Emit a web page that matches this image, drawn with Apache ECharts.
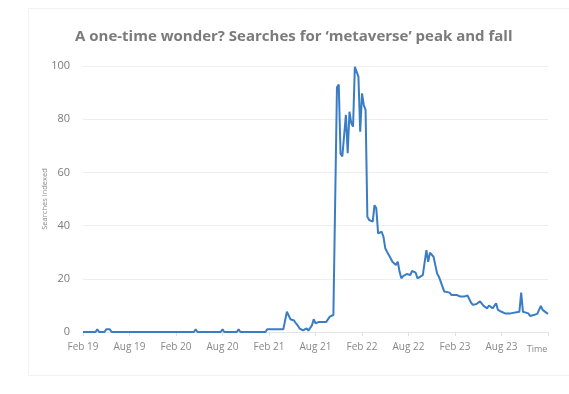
<!DOCTYPE html>
<html>
<head>
<meta charset="utf-8">
<script src="https://cdn.jsdelivr.net/npm/echarts@6/dist/echarts.min.js"></script>
<style>
html,body{margin:0;padding:0;background:#fff;}
#chart{width:569px;height:394px;}
</style>
</head>
<body>
<div id="chart"></div>
<script>
// Weeks since first week of Feb 2019 (weekly Google Trends-style index)
const weeks = [0,7,8,9,12,13,14,15,16,62,63,64,77,78,79,86,87,88,102,103,104,105,112,113,114,115,116,117,118,119,120,121,122,123,124,125,126,127,128,129,130,131,132,136,137,138,139,140,142,143,144,145,147,148,149,150,151,152,153,154,155,156,157,158,159,160,162,163,164,165,167,168,169,170,172,173,175,176,177,178,179,181,183,184,186,187,190,191,192,193,194,195,196,198,199,200,202,203,205,206,207,209,211,212,213,215,216,217,218,220,221,222,224,225,226,227,229,231,232,233,234,236,237,239,240,244,245,246,247,249,250,252,253,254,256,257,259,260];
const searches = [0,0,1,0,0,1,0.5,1,0,0,1,0,0,1,0,0,1,0,0,1,0.5,1,1,1.5,7.6,8,4.8,4.5,4.3,3.3,2.5,1.4,0.8,0.6,0.5,1.4,0.5,0.8,2.5,4.8,3.3,3.6,3.8,3.8,4.5,5.8,6.2,6.4,92,93,67,66,81.6,67.2,82.8,78.5,77.2,99.7,100,96,75.3,89.7,85.3,83.5,43.3,42.1,41.5,47.7,46.5,37.1,37.7,35.8,31.5,30.2,27.7,26.4,25.2,26.4,22.7,20.2,21,21.8,21.4,23,22.3,20.2,21.4,22,30.8,26.4,29.8,29.3,28.3,22,20.8,20.5,15.2,14.5,14.8,13.9,13.3,13.9,13.3,13.9,13.3,13.7,13.5,11,10.2,10.5,10.2,11.5,9.8,10.2,8.9,10,8.9,10.8,8.3,7.6,7.6,7,7.6,7,7.6,7.6,14.8,7.6,7,7,6,6.4,6,6.8,9.8,8.3,7.3,6.8,5.1];
const xTickLabels = ['Feb 19','Aug 19','Feb 20','Aug 20','Feb 21','Aug 21','Feb 22','Aug 22','Feb 23','Aug 23'];
const yTicks = [0,20,40,60,80,100];

const chart = echarts.init(document.getElementById('chart'), null, {renderer:'canvas'});
const seriesData = weeks.map((w,i)=>[w, searches[i]]);
chart.setOption({
  animation:false,
  backgroundColor:'#fff',
  textStyle:{fontFamily:'"Open Sans", "Noto Sans", sans-serif'},
  graphic:[{
    type:'rect', silent:true, z:-10,
    shape:{x:28.5,y:8.5,width:545,height:367},
    style:{fill:'none',stroke:'#f2f2f2',lineWidth:1}
  }],
  title:{
    text:'A one-time wonder? Searches for \u2018metaverse\u2019 peak and fall',
    left:70, top:24,
    textStyle:{fontSize:15,fontWeight:'bold',color:'#7b7b7b',fontFamily:'"Open Sans", sans-serif'}
  },
  grid:{left:83,right:21,top:66,bottom:62},
  xAxis:{
    type:'value', min:0, max:260, interval:26,
    name:'Time', nameLocation:'end', nameGap:-11,
    nameTextStyle:{color:'#8a8a8a',fontSize:9,align:'center',verticalAlign:'top',padding:[13,0,0,0]},
    axisLine:{show:true,lineStyle:{color:'#e6e6e6'}},
    axisTick:{show:true,length:4,lineStyle:{color:'#e0e0e0'}},
    splitLine:{show:false},
    axisLabel:{
      color:'#888',fontSize:10,margin:10,
      formatter:(v)=>{const i=Math.round(v/26);return (Math.abs(v-i*26)<0.01 && xTickLabels[i])?xTickLabels[i]:'';}
    }
  },
  yAxis:{
    type:'value', min:yTicks[0], max:yTicks[yTicks.length-1], interval:20,
    name:'Searches indexed', nameLocation:'middle', nameRotate:90, nameGap:34,
    nameMoveOverlap:false,
    nameTextStyle:{color:'#8a8a8a',fontSize:7.5},
    axisLine:{show:false}, axisTick:{show:false},
    splitLine:{lineStyle:{color:'#eeeeee'}},
    axisLabel:{color:'#7a7a7a',fontSize:11,margin:13}
  },
  series:[{
    type:'line', data:seriesData, showSymbol:false,
    lineStyle:{color:'#3a7dc5',width:2},
    itemStyle:{color:'#3a7dc5'}
  }]
});
</script>
</body>
</html>
